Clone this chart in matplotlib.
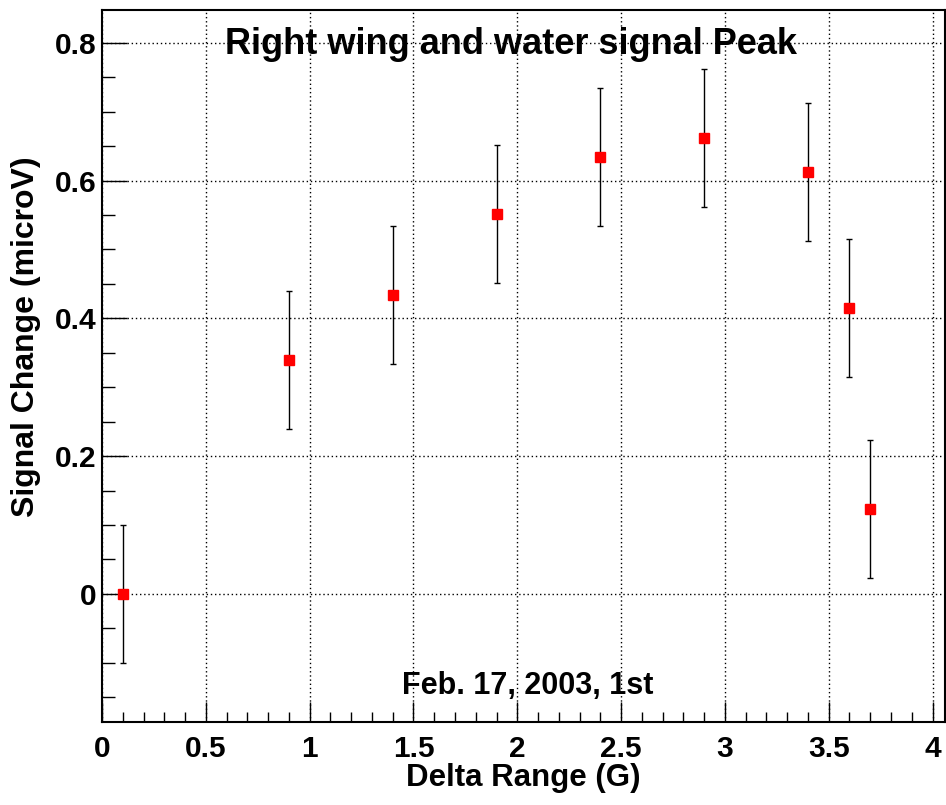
import matplotlib
matplotlib.use("Agg")
import matplotlib.pyplot as plt
from matplotlib.ticker import MultipleLocator

delta_range = [0.1, 0.9, 1.4, 1.9, 2.4, 2.9, 3.4, 3.6, 3.7]
signal_change = [0.0, 0.339, 0.434, 0.551, 0.634, 0.662, 0.612, 0.415, 0.123]
signal_error = [0.1, 0.1, 0.1, 0.1, 0.1, 0.1, 0.1, 0.1, 0.1]

title = "Right wing and water signal Peak"
note = "Feb. 17, 2003, 1st"
xlabel = "Delta Range (G)"
ylabel = "Signal Change (microV)"
xtick_vals = [0, 0.5, 1, 1.5, 2, 2.5, 3, 3.5, 4]
xtick_labels = ['0', '0.5', '1', '1.5', '2', '2.5', '3', '3.5', '4']
ytick_vals = [0, 0.2, 0.4, 0.6, 0.8]
ytick_labels = ['0', '0.2', '0.4', '0.6', '0.8']

plt.rcParams['font.family'] = ['Liberation Sans', 'DejaVu Sans']
plt.rcParams['font.weight'] = 'bold'

fig = plt.figure(figsize=(9.46, 8.05), dpi=100)
ax = fig.add_axes([102/946, 83/805, 843/946, 712/805])

ax.errorbar(delta_range, signal_change, yerr=signal_error,
            fmt='none', ecolor='black', elinewidth=1.0, capsize=2.5, capthick=1.0, zorder=3)
ax.plot(delta_range, signal_change, linestyle='none', marker='s', markersize=7.6,
        markerfacecolor='#ff0000', markeredgecolor='#ff0000', zorder=4)

ax.set_xlim(0, 4.06)
ax.set_ylim(-0.186, 0.8475)

ax.xaxis.set_minor_locator(MultipleLocator(0.1))
ax.yaxis.set_minor_locator(MultipleLocator(0.05))
ax.set_xticks(xtick_vals)
ax.set_xticklabels(xtick_labels)
ax.set_yticks(ytick_vals)
ax.set_yticklabels(ytick_labels)

ax.tick_params(axis='x', which='major', direction='in', length=14.5, width=1.0, pad=9, labelsize=21.5)
ax.tick_params(axis='x', which='minor', direction='in', length=7.2, width=1.0)
ax.tick_params(axis='y', which='major', direction='in', length=18, width=1.0, pad=4, labelsize=21.5)
ax.tick_params(axis='y', which='minor', direction='in', length=9, width=1.0)
for lab in ax.get_xticklabels() + ax.get_yticklabels():
    lab.set_fontweight('bold')

ax.grid(True, which='major', linestyle=(0, (1, 2)), color='black', linewidth=1.0)
ax.set_axisbelow(True)
for s in ax.spines.values():
    s.set_linewidth(1.5)
    s.set_color('black')

fig.text(511/946, 1 - 45/805, title, ha='center', va='center', fontsize=26, fontweight='bold')
fig.text(528/946, 1 - 686/805, note, ha='center', va='center', fontsize=22, fontweight='bold')
fig.text(523/946, 1 - 778/805, xlabel, ha='center', va='center', fontsize=22.5, fontweight='bold')
fig.text(26/946, 1 - 337/805, ylabel, ha='center', va='center', rotation=90, fontsize=23, fontweight='bold')

fig.savefig("out.png", dpi=100)
